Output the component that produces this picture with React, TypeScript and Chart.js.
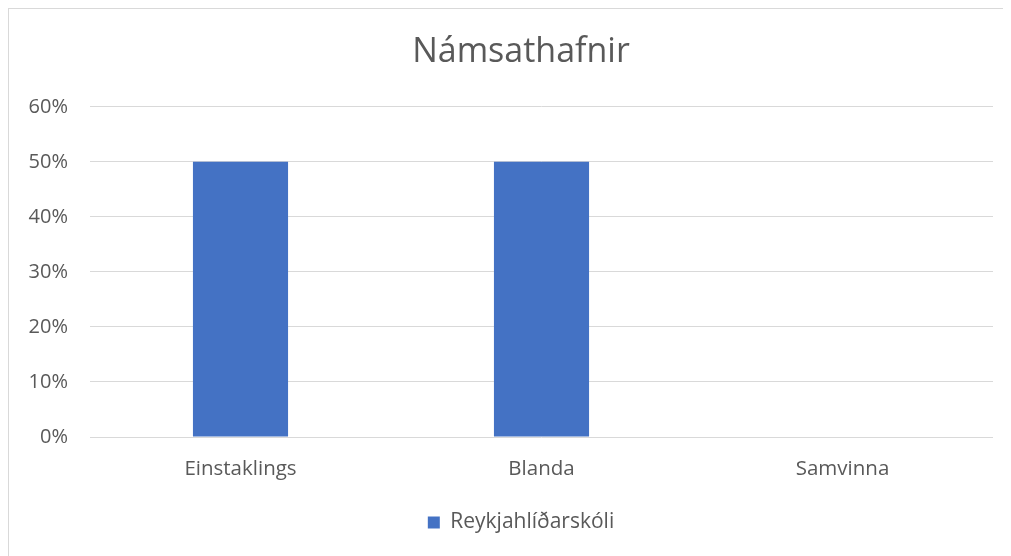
import React, { useEffect, useRef } from "react";
import { Chart, registerables } from "chart.js";

Chart.register(...registerables);

const categories = ["Einstaklings", "Blanda", "Samvinna"];
const seriesName = "Reykjahlíðarskóli";
const seriesValues = [0.5, 0.5, 0];
const titleText = "Námsathafnir";

const FONT = "'Open Sans', 'Noto Sans', sans-serif";
const TEXT = "#595959";

export default function App() {
  const ref = useRef<HTMLCanvasElement | null>(null);

  useEffect(() => {
    if (!ref.current) return;
    const chart = new Chart(ref.current, {
      type: "bar",
      data: {
        labels: categories,
        datasets: [
          {
            label: seriesName,
            data: seriesValues,
            backgroundColor: "#4472C4",
            borderWidth: 0,
            categoryPercentage: 1,
            barPercentage: 0.316,
            yAxisID: "y",
          },
        ],
      },
      options: {
        responsive: false,
        animation: false,
        maintainAspectRatio: false,
        layout: { padding: { top: 10, right: 0, bottom: 13, left: 0 } },
        plugins: {
          title: {
            display: true,
            text: titleText,
            color: TEXT,
            font: { family: FONT, size: 34, weight: "normal" },
            padding: { top: 13, bottom: 34 },
          },
          legend: {
            position: "bottom",
            labels: {
              color: TEXT,
              font: { family: FONT, size: 21 },
              boxWidth: 12,
              boxHeight: 12,
              padding: 10,
            },
          },
          tooltip: { enabled: false },
        },
        scales: {
          x: {
            grid: { display: false, drawTicks: false },
            border: { display: false },
            ticks: { color: TEXT, font: { family: FONT, size: 20.5 }, padding: 20 },
            afterFit: (s: any) => {
              s.height = 65;
            },
          },
          y: {
            position: "left",
            min: 0,
            max: 0.6,
            grid: { color: "#d9d9d9", lineWidth: 1, drawTicks: false },
            border: { display: false },
            ticks: {
              stepSize: 0.1,
              color: TEXT,
              font: { family: FONT, size: 20 },
              padding: 22,
              callback: (v: any) => Math.round(Number(v) * 100) + "%",
            },
            afterFit: (s: any) => {
              s.width = 81;
            },
          },
          yRight: {
            position: "right",
            display: true,
            min: 0,
            max: 0.6,
            grid: { display: false, drawTicks: false },
            border: { display: false },
            ticks: { display: false },
            afterFit: (s: any) => {
              s.width = 40;
            },
          },
        },
      },
    });
    return () => chart.destroy();
  }, []);

  return (
    <div
      style={{
        width: 1002,
        height: 547,
        overflow: "hidden",
        borderTop: "1px solid #d9d9d9",
        borderLeft: "1px solid #d9d9d9",
        background: "#fff",
      }}
    >
      <canvas ref={ref} width={1024} height={547} style={{ display: "block" }} />
    </div>
  );
}
